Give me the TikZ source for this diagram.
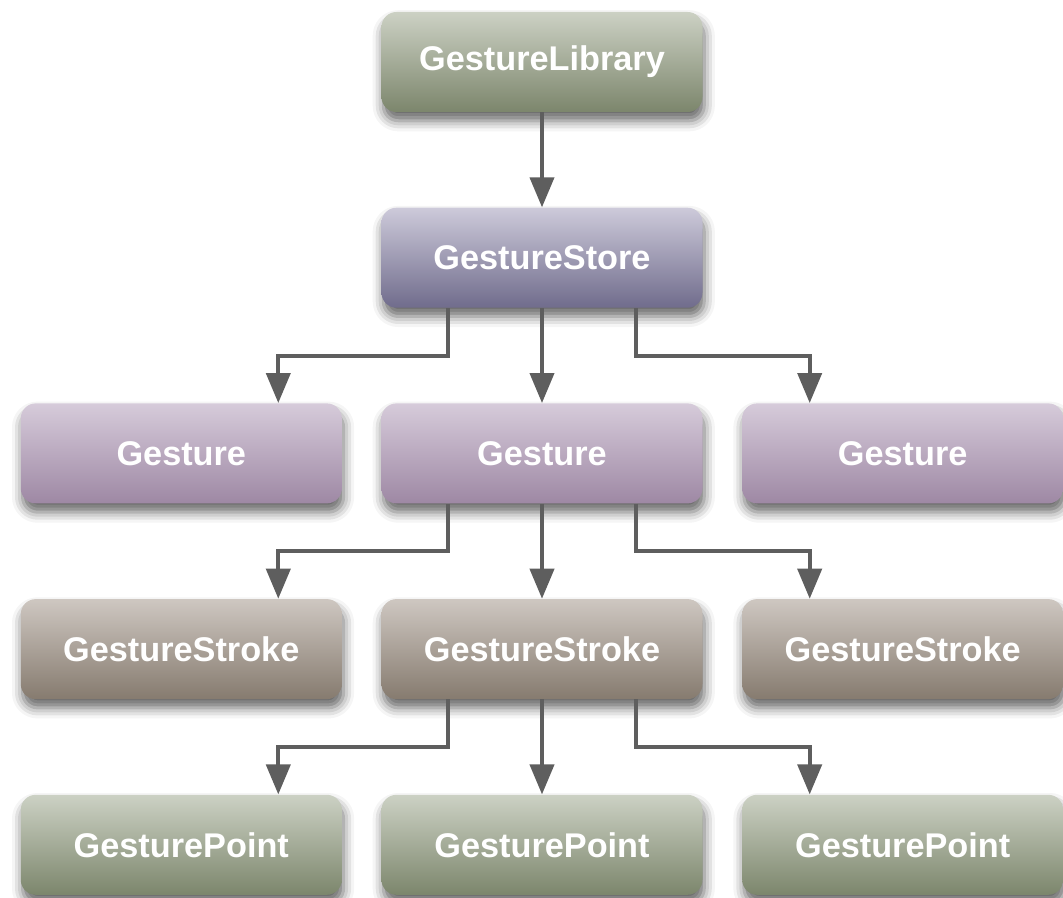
\documentclass[tikz,border=0pt]{standalone}
\usepackage{fontspec}
\setmainfont{Liberation Sans}
\usetikzlibrary{positioning,arrows.meta,shadows.blur}

\definecolor{pointtop}{RGB}{204,209,196}
\definecolor{pointbot}{RGB}{124,134,108}
\definecolor{storetop}{RGB}{205,202,218}
\definecolor{storebot}{RGB}{112,108,140}
\definecolor{gesttop}{RGB}{214,203,218}
\definecolor{gestbot}{RGB}{158,136,164}
\definecolor{stroketop}{RGB}{206,199,193}
\definecolor{strokebot}{RGB}{134,123,111}
\definecolor{arrowgray}{RGB}{94,94,94}

\begin{document}
\begin{tikzpicture}[
            node distance=1.9cm and 0.78cm,
            box/.style={rectangle, rounded corners=0.3cm, minimum width=6.42cm, minimum height=2cm, text=white, font=\bfseries\fontsize{19.5}{23}\selectfont, blur shadow={shadow xshift=1pt, shadow yshift=-5pt, shadow blur radius=6pt, shadow opacity=60}},
            pointbox/.style={box, top color=pointtop, bottom color=pointbot},
            storebox/.style={box, top color=storetop, bottom color=storebot},
            gesturebox/.style={box, top color=gesttop, bottom color=gestbot},
            strokebox/.style={box, top color=stroketop, bottom color=strokebot},
            arrow/.style={-{Triangle[width=0.48cm,length=0.6cm]}, line width=0.08cm, draw=arrowgray}
        ]
            \useasboundingbox (0,0) rectangle (21.26,17.96);

            % Library and store
            \node[pointbox] (lib) at (10.84,16.72) {GestureLibrary};
            \node[storebox, below=of lib] (store) {GestureStore};

            % Gestures
            \node[gesturebox, below=of store] (gest2) {Gesture};
            \node[gesturebox, left=of gest2] (gest1) {Gesture};
            \node[gesturebox, right=of gest2] (gest3) {Gesture};

            % Strokes
            \node[strokebox, below=of gest2] (stroke2) {GestureStroke};
            \node[strokebox, left=of stroke2] (stroke1) {GestureStroke};
            \node[strokebox, right=of stroke2] (stroke3) {GestureStroke};

            % Points
            \node[pointbox, below=of stroke2] (point2) {GesturePoint};
            \node[pointbox, left=of point2] (point1) {GesturePoint};
            \node[pointbox, right=of point2] (point3) {GesturePoint};

            % Arrows
            \draw[arrow] (lib) -- (store);

            \draw[arrow] ([xshift=-1.88cm]store.south) -- ++(0,-0.95) -| ([xshift=1.94cm]gest1.north);
            \draw[arrow] (store) -- (gest2);
            \draw[arrow] ([xshift=1.88cm]store.south) -- ++(0,-0.95) -| ([xshift=-1.86cm]gest3.north);

            \draw[arrow] ([xshift=-1.88cm]gest2.south) -- ++(0,-0.95) -| ([xshift=1.94cm]stroke1.north);
            \draw[arrow] (gest2) -- (stroke2);
            \draw[arrow] ([xshift=1.88cm]gest2.south) -- ++(0,-0.95) -| ([xshift=-1.86cm]stroke3.north);

            \draw[arrow] ([xshift=-1.88cm]stroke2.south) -- ++(0,-0.95) -| ([xshift=1.94cm]point1.north);
            \draw[arrow] (stroke2) -- (point2);
            \draw[arrow] ([xshift=1.88cm]stroke2.south) -- ++(0,-0.95) -| ([xshift=-1.86cm]point3.north);
        \end{tikzpicture}
\end{document}
